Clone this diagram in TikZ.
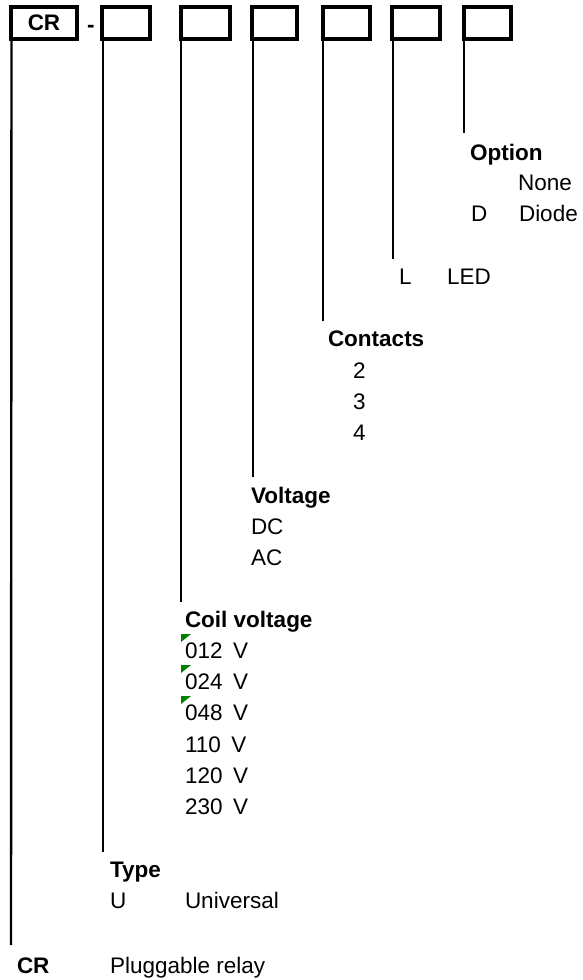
\documentclass[tikz,border=0pt]{standalone}
\usepackage{fontspec}
\setmainfont{Liberation Sans}
\begin{document}
\begin{tikzpicture}[x=1pt,y=-1pt,
  cell/.style={draw,line width=3.5pt,outer sep=0pt,inner sep=0pt,anchor=north west},
  conn/.style={line width=2.4pt},
  lbl/.style={anchor=base west,inner sep=0pt,outer sep=0pt,font=\fontsize{22.5}{27}\selectfont},
  hdr/.style={lbl,font=\fontsize{22.5}{27}\selectfont\bfseries},
  flagtri/.style={fill=green!50!black}
]
\useasboundingbox (0,0) rectangle (582,980);
% boxes
\node[cell,minimum width=66pt,minimum height=32pt,font=\fontsize{22.5}{27}\selectfont\bfseries] (b1) at (11,7) {CR};
\node[anchor=base west,inner sep=0pt,font=\fontsize{22.5}{27}\selectfont\bfseries] (dash) at (87,32) {-};
\node[cell,minimum width=48pt,minimum height=32pt] (b2) at (102,7) {};
\node[cell,minimum width=49pt,minimum height=32pt] (b3) at (181,7) {};
\node[cell,minimum width=45pt,minimum height=32pt] (b4) at (252,7) {};
\node[cell,minimum width=47pt,minimum height=32pt] (b5) at (323,7) {};
\node[cell,minimum width=48pt,minimum height=32pt] (b6) at (392,7) {};
\node[cell,minimum width=47pt,minimum height=32pt] (b7) at (464,7) {};
% connector ends
\coordinate (e1) at (11,945);
\coordinate (e2) at (103,852);
\coordinate (e3) at (181,602);
\coordinate (e4) at (253,477);
\coordinate (e5) at (323,321);
\coordinate (e6) at (393,259);
\coordinate (e7) at (464,133);
\draw[conn] ([xshift=0.5pt]b1.south west) -- (e1);
\draw[conn] ([xshift=1pt]b2.south west) -- (e2);
\draw[conn] (b3.south west) -- (e3);
\draw[conn] ([xshift=1pt]b4.south west) -- (e4);
\draw[conn] (b5.south west) -- (e5);
\draw[conn] ([xshift=1pt]b6.south west) -- (e6);
\draw[conn] (b7.south west) -- (e7);
% Option
\node[hdr] (opt) at (470,160) {Option};
\node[lbl] (optnone) at (518,190) {None};
\node[lbl] (optD) at (471,221) {D};
\node[lbl] (optDiode) at (519,221) {Diode};
% LED
\node[lbl] (ledL) at (399,284) {L};
\node[lbl] (led) at (447,284) {LED};
% Contacts
\node[hdr] (cont) at (328,346) {Contacts};
\node[lbl] (c2) at (353,378) {2};
\node[lbl] (c3) at (353,409) {3};
\node[lbl] (c4) at (353,440) {4};
% Voltage
\node[hdr] (volt) at (251,503) {Voltage};
\node[lbl] (dc) at (251,534) {DC};
\node[lbl] (ac) at (251,565) {AC};
% Coil voltage
\node[hdr] (coil) at (185,627) {Coil voltage};
\node[lbl] (v012) at (185,658) {012\hspace{10.5pt}V};
\node[lbl] (v024) at (185,689) {024\hspace{10.5pt}V};
\node[lbl] (v048) at (185,720) {048\hspace{10.5pt}V};
\node[lbl] (v110) at (185,752) {110\hspace{10.5pt}V};
\node[lbl] (v120) at (185,783) {120\hspace{10.5pt}V};
\node[lbl] (v230) at (185,814) {230\hspace{10.5pt}V};
\fill[flagtri] (181,634) -- (191,634) -- (181,642) -- cycle;
\fill[flagtri] (181,665) -- (191,665) -- (181,673) -- cycle;
\fill[flagtri] (181,696) -- (191,696) -- (181,704) -- cycle;
% Type
\node[hdr] (type) at (110,877) {Type};
\node[lbl] (tU) at (110,908) {U};
\node[lbl] (tUni) at (185,908) {Universal};
% CR
\node[hdr] (cr) at (17,973) {CR};
\node[lbl] (crdesc) at (110,973) {Pluggable relay};
\end{tikzpicture}
\end{document}
